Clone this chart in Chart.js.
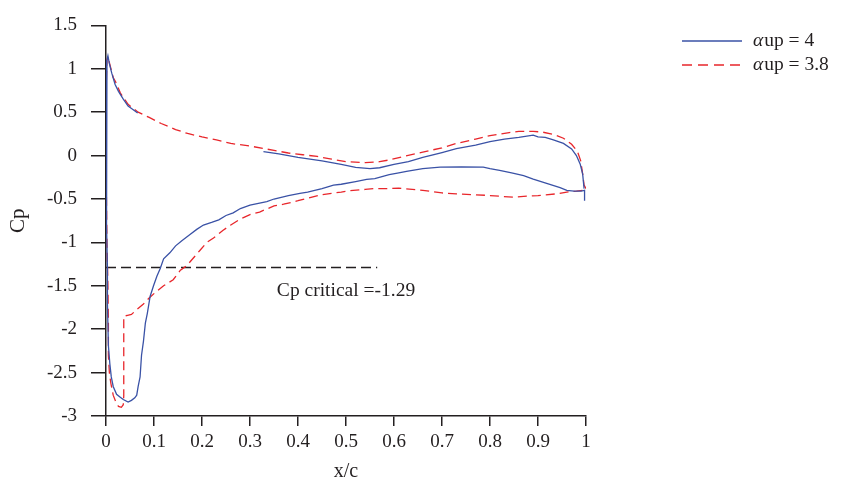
<!DOCTYPE html>
<html>
<head>
<meta charset="utf-8">
<script src="https://cdn.jsdelivr.net/npm/chart.js@4"></script>
<style>
  html, body { margin: 0; padding: 0; background: #fff; }
  canvas { display: block; }
</style>
</head>
<body>
<canvas id="c" width="842" height="484"></canvas>
<script>
// ---- Data ----
const xTicks = [0, 0.1, 0.2, 0.3, 0.4, 0.5, 0.6, 0.7, 0.8, 0.9, 1];
const xTickLabels = ['0', '0.1', '0.2', '0.3', '0.4', '0.5', '0.6', '0.7', '0.8', '0.9', '1'];
const yTicks = [-3, -2.5, -2, -1.5, -1, -0.5, 0, 0.5, 1, 1.5];
const yTickLabels = ['-3', '-2.5', '-2', '-1.5', '-1', '-0.5', '0', '0.5', '1', '1.5'];

const seriesNames = ['\u03B1up = 4', '\u03B1up = 3.8'];

// alpha_up = 4 (blue, solid): trailing edge -> pressure side -> leading edge -> suction side -> trailing edge
const blueX = [0.996, 0.993, 0.988, 0.98, 0.97, 0.953, 0.932, 0.915, 0.90, 0.89, 0.86, 0.83, 0.80, 0.77, 0.73, 0.70, 0.66, 0.63, 0.60, 0.57, 0.55, 0.52, 0.49, 0.45, 0.40, 0.36, 0.328,
  0.2,
  0.066, 0.056, 0.046, 0.036, 0.026, 0.019, 0.012, 0.007, 0.004, 0.002, 0.001, 0.0005, 0.001, 0.002, 0.003, 0.003, 0.005, 0.008, 0.011, 0.015, 0.022, 0.029, 0.036, 0.046, 0.053, 0.06, 0.064, 0.067, 0.071, 0.074, 0.078, 0.082, 0.086, 0.092, 0.099, 0.106, 0.113, 0.12, 0.133, 0.145, 0.158, 0.175, 0.189, 0.203, 0.22, 0.235, 0.25, 0.265, 0.28, 0.30, 0.335, 0.35, 0.38, 0.404, 0.42, 0.45, 0.474, 0.49, 0.52, 0.543, 0.56, 0.59, 0.61, 0.626, 0.66, 0.696, 0.74, 0.786, 0.80, 0.82, 0.845, 0.87, 0.89, 0.918, 0.946, 0.96, 0.975, 0.99, 0.997, 0.997];
const blueCp = [-0.38, -0.21, -0.10, 0.0, 0.077, 0.14, 0.18, 0.21, 0.215, 0.235, 0.21, 0.19, 0.16, 0.12, 0.08, 0.035, -0.02, -0.07, -0.10, -0.14, -0.15, -0.135, -0.10, -0.06, -0.02, 0.02, 0.046,
  null,
  0.49, 0.53, 0.57, 0.65, 0.74, 0.82, 0.95, 1.06, 1.15, 1.10, 0.8, 0.3, -0.25, -0.8, -1.3, -1.7, -2.19, -2.40, -2.55, -2.66, -2.75, -2.78, -2.81, -2.84, -2.82, -2.79, -2.76, -2.66, -2.55, -2.30, -2.14, -1.93, -1.82, -1.62, -1.50, -1.39, -1.30, -1.19, -1.12, -1.04, -0.98, -0.91, -0.85, -0.80, -0.77, -0.74, -0.69, -0.66, -0.61, -0.57, -0.53, -0.50, -0.46, -0.435, -0.42, -0.38, -0.34, -0.33, -0.30, -0.275, -0.265, -0.22, -0.20, -0.183, -0.15, -0.133, -0.13, -0.133, -0.15, -0.17, -0.20, -0.23, -0.27, -0.32, -0.37, -0.40, -0.41, -0.41, -0.40, -0.52];

// alpha_up = 3.8 (red, dashed)
const redX = [1.0, 0.996, 0.993, 0.989, 0.982, 0.97, 0.953, 0.935, 0.91, 0.89, 0.86, 0.84, 0.80, 0.77, 0.73, 0.70, 0.66, 0.62, 0.59, 0.57, 0.54, 0.50, 0.47, 0.44, 0.41, 0.38, 0.35, 0.33, 0.30, 0.26, 0.23, 0.20, 0.17, 0.145, 0.115, 0.09, 0.067, 0.046, 0.03, 0.02, 0.015, 0.008, 0.004, 0.002, 0.001, 0.0, 0.0, 0.001, 0.002, 0.004, 0.005, 0.005, 0.007, 0.01, 0.015, 0.02, 0.026, 0.032, 0.036, 0.037, 0.037, 0.045, 0.053, 0.065, 0.078, 0.09, 0.104, 0.12, 0.14, 0.155, 0.168, 0.182, 0.196, 0.21, 0.224, 0.244, 0.26, 0.28, 0.30, 0.32, 0.35, 0.37, 0.40, 0.42, 0.45, 0.475, 0.49, 0.515, 0.54, 0.56, 0.59, 0.61, 0.66, 0.70, 0.73, 0.80, 0.85, 0.87, 0.90, 0.94, 0.96, 0.98, 0.995, 1.0];
const redCp = [-0.38, -0.34, -0.21, -0.06, 0.05, 0.13, 0.20, 0.24, 0.27, 0.28, 0.28, 0.265, 0.23, 0.19, 0.14, 0.09, 0.04, -0.01, -0.05, -0.07, -0.08, -0.07, -0.04, -0.01, 0.01, 0.03, 0.06, 0.08, 0.11, 0.14, 0.18, 0.215, 0.255, 0.30, 0.37, 0.44, 0.50, 0.59, 0.72, 0.85, 0.90, 1.05, 1.14, 1.10, 0.9, 0.5, 0.0, -0.5, -1.0, -1.5, -1.9, -2.3, -2.5, -2.62, -2.76, -2.83, -2.89, -2.90, -2.87, -2.77, -1.85, -1.84, -1.83, -1.77, -1.71, -1.64, -1.57, -1.50, -1.43, -1.32, -1.27, -1.18, -1.09, -1.0, -0.95, -0.86, -0.80, -0.73, -0.68, -0.65, -0.58, -0.56, -0.52, -0.49, -0.45, -0.43, -0.42, -0.40, -0.39, -0.38, -0.38, -0.375, -0.40, -0.43, -0.44, -0.46, -0.48, -0.47, -0.46, -0.44, -0.42, -0.41, -0.40, -0.38];

// Critical pressure coefficient
const cpCritical = -1.29;
const cpCriticalX = [0, 0.565];
const cpCriticalLabel = 'Cp critical =-1.29';
const cpCriticalLabelAt = [0.5, -1.56];

// ---- Build chart ----
const zip = (xs, ys) => xs.map((x, i) => ({ x: x, y: ys[i] }));
const SERIF = '"Liberation Serif", "Times New Roman", serif';
const BLUE = '#3a52a6';
const RED = '#e8262b';
const INK = '#231f20';

const annotationPlugin = {
  id: 'cpLabel',
  afterDatasetsDraw(chart) {
    const { ctx, scales } = chart;
    ctx.save();
    ctx.font = '19.5px ' + SERIF;
    ctx.fillStyle = INK;
    ctx.textAlign = 'center';
    ctx.textBaseline = 'middle';
    ctx.fillText(cpCriticalLabel, scales.x.getPixelForValue(cpCriticalLabelAt[0]), scales.y.getPixelForValue(cpCriticalLabelAt[1]));
    ctx.restore();
  }
};

const legendPlugin = {
  id: 'customLegend',
  afterDraw(chart) {
    const { ctx } = chart;
    const items = [
      { color: BLUE, dash: [], text: seriesNames[0] },
      { color: RED, dash: [10, 6], text: seriesNames[1] }
    ];
    const x0 = 682, lineLen = 60, y0 = 41, rowH = 24;
    ctx.save();
    items.forEach((it, i) => {
      const y = y0 + i * rowH;
      ctx.beginPath();
      ctx.setLineDash(it.dash);
      ctx.strokeStyle = it.color;
      ctx.lineWidth = 1.3;
      ctx.moveTo(x0, y);
      ctx.lineTo(x0 + lineLen, y);
      ctx.stroke();
      ctx.setLineDash([]);
      ctx.fillStyle = INK;
      ctx.textBaseline = 'middle';
      ctx.textAlign = 'left';
      let tx = x0 + lineLen + 11;
      const alpha = it.text.charAt(0);
      const rest = it.text.slice(1);
      ctx.font = 'italic 19.5px ' + SERIF;
      ctx.fillText(alpha, tx, y);
      tx += ctx.measureText(alpha).width + 1;
      ctx.font = '19.5px ' + SERIF;
      ctx.fillText(rest, tx, y);
    });
    ctx.restore();
  }
};

new Chart(document.getElementById('c'), {
  type: 'scatter',
  data: {
    datasets: [
      {
        label: seriesNames[0],
        data: zip(blueX, blueCp),
        showLine: true,
        spanGaps: false,
        borderColor: BLUE,
        borderWidth: 1.3,
        pointRadius: 0,
        tension: 0
      },
      {
        label: seriesNames[1],
        data: zip(redX, redCp),
        showLine: true,
        borderColor: RED,
        borderWidth: 1.3,
        borderDash: [9, 5],
        pointRadius: 0,
        tension: 0
      },
      {
        label: 'Cp critical',
        data: zip(cpCriticalX, cpCriticalX.map(() => cpCritical)),
        showLine: true,
        borderColor: INK,
        borderWidth: 1.4,
        borderDash: [10, 5],
        pointRadius: 0
      }
    ]
  },
  options: {
    responsive: false,
    animation: false,
    devicePixelRatio: 1,
    layout: { padding: { top: 22, right: 256, left: 0, bottom: 0 } },
    plugins: { legend: { display: false }, tooltip: { enabled: false } },
    scales: {
      x: {
        type: 'linear',
        min: 0, max: 1,
        afterBuildTicks: (s) => { s.ticks = xTicks.map(v => ({ value: v })); },
        afterFit: (s) => { s.height = 68; },
        grid: { drawOnChartArea: false, drawTicks: true, tickLength: 10, color: INK, lineWidth: 1.5 },
        border: { display: true, color: INK, width: 1.5 },
        ticks: {
          color: INK, font: { family: SERIF, size: 19 }, padding: 5, maxRotation: 0,
          callback: (v) => { const i = xTicks.indexOf(v); return i >= 0 ? xTickLabels[i] : ''; }
        },
        title: { display: true, text: 'x/c', color: INK, font: { family: SERIF, size: 20 }, padding: { top: 3, bottom: 0 } }
      },
      y: {
        type: 'linear',
        min: -3, max: 1.5,
        afterBuildTicks: (s) => { s.ticks = yTicks.map(v => ({ value: v })); },
        afterFit: (s) => { s.width = 106; },
        grid: { drawOnChartArea: false, drawTicks: true, tickLength: 15, color: INK, lineWidth: 1.5 },
        border: { display: true, color: INK, width: 1.5 },
        ticks: {
          color: INK, font: { family: SERIF, size: 19 }, padding: 14,
          callback: (v) => { const i = yTicks.indexOf(v); return i >= 0 ? yTickLabels[i] : ''; }
        },
        title: { display: true, text: 'Cp', color: INK, font: { family: SERIF, size: 21 }, padding: { top: 6, bottom: 0 } }
      }
    }
  },
  plugins: [annotationPlugin, legendPlugin]
});
</script>
</body>
</html>
